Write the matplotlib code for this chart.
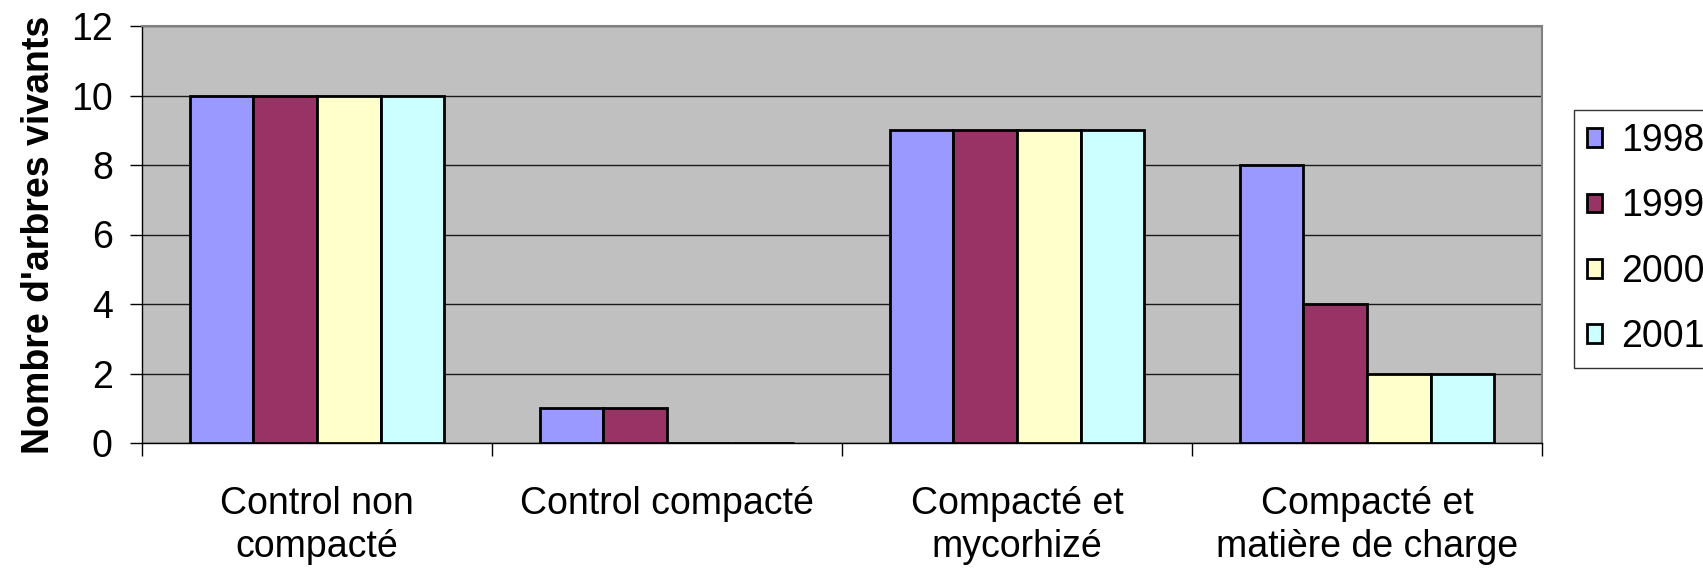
import matplotlib
matplotlib.use("Agg")
import matplotlib.pyplot as plt
import numpy as np

# donnees
categories = ["Control non\ncompacté", "Control compacté", "Compacté et\nmycorhizé", "Compacté et\nmatière de charge"]
annees = ["1998", "1999", "2000", "2001"]
v1998 = [10, 1, 9, 8]
v1999 = [10, 1, 9, 4]
v2000 = [10, 0, 9, 2]
v2001 = [10, 0, 9, 2]
couleurs = ["#9999FF", "#993366", "#FFFFCC", "#CCFFFF"]

plt.rcParams["font.family"] = ["Liberation Sans", "DejaVu Sans"]

W, H = 1703, 568
fig = plt.figure(figsize=(W / 100, H / 100), dpi=100)
ax = fig.add_axes([142 / W, 1 - 443 / H, (1542 - 142) / W, (443 - 26) / H])
ax.set_facecolor("#C0C0C0")

series = [v1998, v1999, v2000, v2001]
x = np.arange(len(categories))
w = 1 / 5.5
for i, (vals, lab, c) in enumerate(zip(series, annees, couleurs)):
    ax.bar(x + (i - 1.5) * w, vals, width=w, color=c, edgecolor="black",
           linewidth=2.0, label=lab, zorder=3)

ax.set_xlim(-0.5, len(categories) - 0.5)
ax.set_ylim(0, 12)
ax.set_yticks(np.arange(0, 13, 2))
ax.yaxis.grid(True, color="#1a1a1a", linewidth=1.0, zorder=1)
ax.set_axisbelow(True)

# ticks aux limites des categories, etiquettes au centre
ax.set_xticks(np.arange(-0.5, len(categories), 1))
ax.set_xticklabels([])
ax.set_xticks(x, minor=True)
ax.set_xticklabels(categories, minor=True, fontsize=27, linespacing=1.26)
ax.tick_params(axis="x", which="major", direction="out", length=9, width=1, color="black")
ax.tick_params(axis="x", which="minor", length=0, pad=31)
ax.tick_params(axis="y", direction="out", length=9, width=1, color="black", labelsize=27, pad=12)

for s in ["top", "right"]:
    ax.spines[s].set_color("#808080")
    ax.spines[s].set_linewidth(1.5)
for s in ["left", "bottom"]:
    ax.spines[s].set_color("black")
    ax.spines[s].set_linewidth(1.0)

ax.set_ylabel("Nombre d'arbres vivants", fontsize=27, fontweight="bold", labelpad=10)

leg = fig.legend(loc="upper left", bbox_to_anchor=(1574 / W, 1 - 110 / H),
                 fontsize=27, frameon=True, fancybox=False, edgecolor="black",
                 handlelength=0.4, handleheight=0.4, handletextpad=0.5,
                 borderpad=0.35, labelspacing=0.78, borderaxespad=0)
leg.get_frame().set_linewidth(1.0)

fig.savefig("out.png", dpi=100)
